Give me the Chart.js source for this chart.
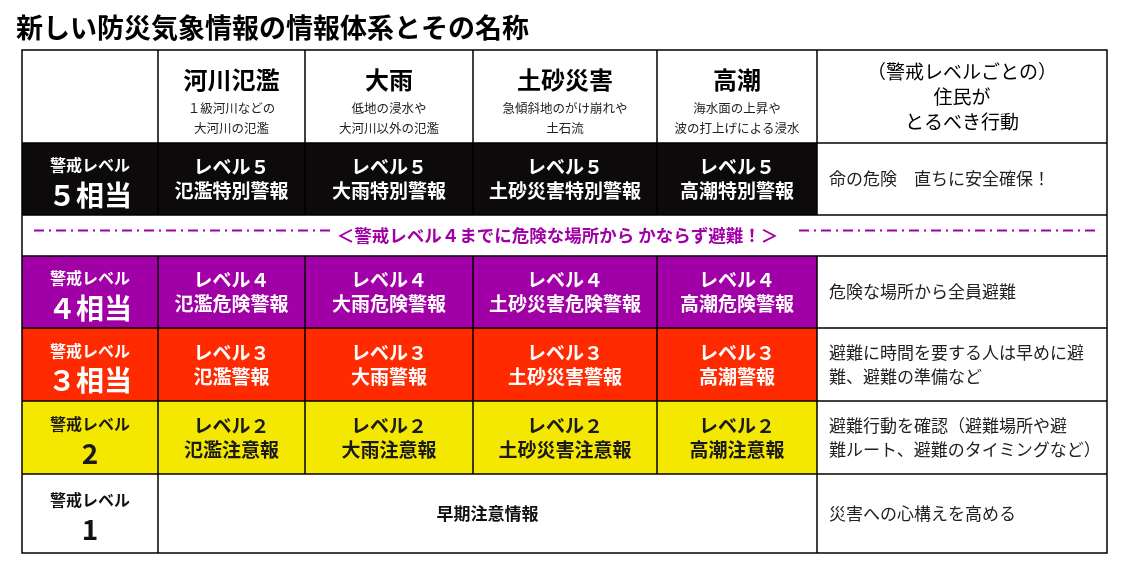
<!DOCTYPE html>
<html><head><meta charset="utf-8">
<script src="https://cdn.jsdelivr.net/npm/chart.js@4"></script>
<style>html,body{margin:0;padding:0;background:#fff}#wrap{width:1129px;height:568px}</style>
</head><body><div id="wrap"><canvas id="c"></canvas></div>
<script>
const title = '新しい防災気象情報の情報体系とその名称';
const hazards = ['河川氾濫','大雨','土砂災害','高潮'];
const hazardShort = ['氾濫','大雨','土砂災害','高潮'];
const hazardNotes = [['１級河川などの','大河川の氾濫'],['低地の浸水や','大河川以外の氾濫'],['急傾斜地のがけ崩れや','土石流'],['海水面の上昇や','波の打上げによる浸水']];
const levels = ['５','４','３','２'];
const levelNames = ['５相当','４相当','３相当','2'];
const warnSuffix = ['特別警報','危険警報','警報','注意報'];
const levelColors = ['#0d0a0b','#a100a6','#ff2a00','#f5e800'];
const levelText = ['#ffffff','#ffffff','#ffffff','#1a1a1a'];
const actions = [['命の危険　直ちに安全確保！'],['危険な場所から全員避難'],['避難に時間を要する人は早めに避','難、避難の準備など'],['避難行動を確認（避難場所や避','難ルート、避難のタイミングなど）']];
const level1Info = '早期注意情報';
const level1Action = '災害への心構えを高める';
const actionHeader = ['（警戒レベルごとの）','住民が','とるべき行動'];
const banner = '＜警戒レベル４までに危険な場所から かならず避難！＞';
const colEdges = [0,136,283,451,635,795,1085];
const rowEdges = [0,93,165,206,278,351,424,503];

const F = '"Noto Sans CJK JP", sans-serif';
const tablePlugin = {
  id:'table',
  afterDraw(chart){
    const ctx = chart.ctx, X = chart.scales.x, Y = chart.scales.y;
    const px = v => X.getPixelForValue(v), py = v => Y.getPixelForValue(v);
    const rect = (c0,c1,r0,r1,fill) => { const x0=px(colEdges[c0]),x1=px(colEdges[c1]),y0=py(rowEdges[r0]),y1=py(rowEdges[r1]);
      if(fill){ctx.fillStyle=fill;ctx.fillRect(x0,y0,x1-x0,y1-y0);} return {x0,x1,y0,y1,cx:(x0+x1)/2,cy:(y0+y1)/2}; };
    const lines = (arr,x,cy,font,color,lh,align) => { ctx.font=font;ctx.fillStyle=color;ctx.textAlign=align||'center';ctx.textBaseline='middle';
      const s = cy - (arr.length-1)*lh/2; arr.forEach((t,i)=>ctx.fillText(t,x,s+i*lh)); };
    ctx.save();
    ctx.font='bold 27px '+F; ctx.fillStyle='#000'; ctx.textAlign='left'; ctx.textBaseline='middle';
    ctx.fillText(title,16,28);
    hazards.forEach((h,i)=>{ const r=rect(i+1,i+2,0,1);
      lines([h],r.cx,r.y0+30,'bold 24px '+F,'#000',0);
      lines(hazardNotes[i],r.cx,r.y0+68,'12.5px '+F,'#222',20); });
    const rh=rect(5,6,0,1); lines(actionHeader,rh.cx,rh.cy,'19px '+F,'#000',25);
    levels.forEach((lv,k)=>{ const ri = k===0?1:k+2;
      const l = rect(0,1,ri,ri+1,levelColors[k]);
      ctx.font='bold 16px '+F; ctx.fillStyle=levelText[k]; ctx.textAlign='center';
      ctx.fillText('警戒レベル',l.cx,l.cy-14);
      ctx.font='bold 28px '+F; ctx.fillText(levelNames[k],l.cx,l.cy+16);
      hazardShort.forEach((h,i)=>{ const r=rect(i+1,i+2,ri,ri+1,levelColors[k]);
        lines(['レベル'+lv,h+warnSuffix[k]],r.cx,r.cy,'bold 19px '+F,levelText[k],24); });
      const a=rect(5,6,ri,ri+1); lines(actions[k],a.x0+12,a.cy,'17px '+F,'#222',24,'left');
    });
    const l1=rect(0,1,6,7); ctx.font='bold 16px '+F;ctx.fillStyle='#111';ctx.textAlign='center';
    ctx.fillText('警戒レベル',l1.cx,l1.cy-14); ctx.font='bold 28px '+F; ctx.fillText('1',l1.cx,l1.cy+16);
    const m=rect(1,5,6,7); lines([level1Info],m.cx,m.cy,'bold 17px '+F,'#111',0);
    const a1=rect(5,6,6,7); lines([level1Action],a1.x0+12,a1.cy,'17px '+F,'#222',0,'left');
    const b=rect(0,6,2,3);
    ctx.strokeStyle='#a100a6'; ctx.lineWidth=2; ctx.setLineDash([10,5,2,5]);
    ctx.beginPath(); ctx.moveTo(b.x0+12,b.cy-5); ctx.lineTo(b.x0+308,b.cy-5);
    ctx.moveTo(b.x1-308,b.cy-5); ctx.lineTo(b.x1-12,b.cy-5); ctx.stroke(); ctx.setLineDash([]);
    lines([banner],b.cx-7,b.cy,'bold 17.5px '+F,'#a100a6',0);
    ctx.strokeStyle='#000'; ctx.lineWidth=1.5;
    const gx0=px(0),gx1=px(1085),gy0=py(0),gy1=py(503);
    ctx.strokeRect(gx0,gy0,gx1-gx0,gy1-gy0);
    rowEdges.slice(1,-1).forEach(r=>{ctx.beginPath();ctx.moveTo(gx0,py(r));ctx.lineTo(gx1,py(r));ctx.stroke();});
    colEdges.slice(1,-1).forEach((c,i)=>{ const skip = (i>=1&&i<=3);
      ctx.beginPath(); ctx.moveTo(px(c),gy0); ctx.lineTo(px(c),py(rowEdges[2])); ctx.moveTo(px(c),py(rowEdges[3]));
      ctx.lineTo(px(c), skip?py(rowEdges[6]):gy1); ctx.stroke(); });
    ctx.restore();
  }
};
const pts=[]; colEdges.slice(0,-1).forEach((c,i)=>rowEdges.slice(0,-1).forEach((r,j)=>pts.push({x:(c+colEdges[i+1])/2,y:(r+rowEdges[j+1])/2})));
new Chart(document.getElementById('c'),{
  type:'scatter',
  data:{datasets:[{data:pts,pointRadius:0}]},
  plugins:[tablePlugin],
  options:{responsive:true,maintainAspectRatio:false,animation:false,
    layout:{padding:{left:22,right:22,top:50,bottom:15}},
    plugins:{legend:{display:false},tooltip:{enabled:false}},
    scales:{x:{type:'linear',min:0,max:1085,display:false},y:{type:'linear',min:0,max:503,reverse:true,display:false}}}
});
</script></body></html>
